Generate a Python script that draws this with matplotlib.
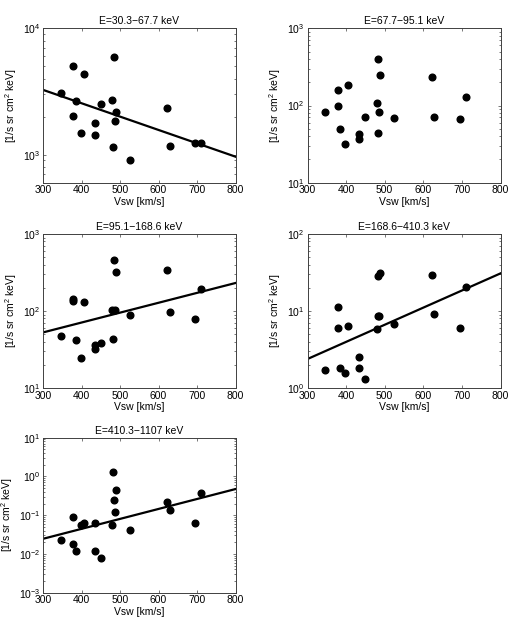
import numpy as np
import matplotlib.pyplot as plt

plt.rcParams['font.family'] = ['Liberation Sans', 'DejaVu Sans']
plt.rcParams['font.size'] = 7.5
plt.rcParams['mathtext.fontset'] = 'custom'
plt.rcParams['mathtext.rm'] = 'Liberation Sans'
plt.rcParams['mathtext.it'] = 'Liberation Sans:italic'
plt.rcParams['mathtext.bf'] = 'Liberation Sans:bold'

## Solar wind speed of each event (same for all energy bins)
vsw = [345, 378, 378, 384, 398, 406, 434, 434, 450, 479,
       482, 483, 486, 488, 525, 623, 629, 695, 710]

## Flux per energy bin
flux1 = [3057, 5058, 2026, 2655, 1472, 4313, 1791, 1428, 2528, 2704,
         1152, 5971, 1849, 2168, 901, 2349, 1173, 1233, 1233]
flux2 = [82, 98, 161, 49, 32, 185, 43, 37, 72, 107,
         44, 400, 82, 245, 69, 231, 70, 66, 130]
flux3 = [47, 145, 134, 42, 24.5, 131, 36, 32, 38, 102,
         43, 464, 102, 324, 90, 337, 96, 79, 191]
flux4 = [1.73, 11.4, 5.96, 1.84, 1.55, 6.38, 2.53, 1.80, 1.30, 5.84,
         8.6, 28.5, 8.5, 31.5, 6.7, 29.4, 9.2, 6.1, 20.7]
flux5 = [0.0233, 0.0889, 0.0177, 0.0122, 0.0543, 0.0611, 0.0624, 0.0117, 0.00774, 0.0543,
         1.29, 0.252, 0.124, 0.438, 0.0421, 0.224, 0.140, 0.0611, 0.366]

titles = ["E=30.3\u221267.7 keV", "E=67.7\u221295.1 keV", "E=95.1\u2212168.6 keV",
          "E=168.6\u2212410.3 keV", "E=410.3\u22121107 keV"]

## Fit line end values at Vsw = 300 and 800 (None = no fit shown)
fit_x = [300, 800]
fit1 = [3251, 964]
fit2 = None
fit3 = [52.8, 231]
fit4 = [2.38, 30.8]
fit5 = [0.0247, 0.473]

ylims = [(600, 1e4), (10, 1e3), (10, 1e3), (1, 100), (1e-3, 10)]

fluxes = [flux1, flux2, flux3, flux4, flux5]
fits = [fit1, fit2, fit3, fit4, fit5]

W, H = 515, 627
lefts = [43.3, 307.5]
widths = [192.2, 193.0]
tops = [28.3, 234.0, 437.7]
bottoms = [182.7, 388.0, 592.7]

fig = plt.figure(figsize=(W / 100, H / 100), dpi=100)

for i in range(5):
    row, col = divmod(i, 2)
    ax = fig.add_axes([lefts[col] / W, 1 - bottoms[row] / H,
                       widths[col] / W, (bottoms[row] - tops[row]) / H])
    ax.plot(vsw, fluxes[i], 'o', color='k', markersize=4.8, zorder=3)
    if fits[i] is not None:
        ax.plot(fit_x, fits[i], '-', color='k', linewidth=1.6, zorder=2)
    ax.set_yscale('log')
    ax.set_xlim(300, 800)
    ax.set_ylim(*ylims[i])
    ax.set_xticks([300, 400, 500, 600, 700, 800])
    ax.set_title(titles[i], fontsize=7.5, pad=3)
    ax.set_xlabel("Vsw [km/s]", labelpad=1)
    ax.set_ylabel("[1/s sr cm$^2$ keV]", labelpad=3)
    ax.tick_params(which='both', direction='in', top=True, right=True,
                   color='#404040', labelsize=7.5, pad=2)
    ax.tick_params(which='major', length=2.5, width=0.5)
    ax.tick_params(which='minor', length=1.5, width=0.5)
    for s in ax.spines.values():
        s.set_color('#404040')
        s.set_linewidth(0.7)

plt.savefig("out.png", dpi=100)
plt.close()
